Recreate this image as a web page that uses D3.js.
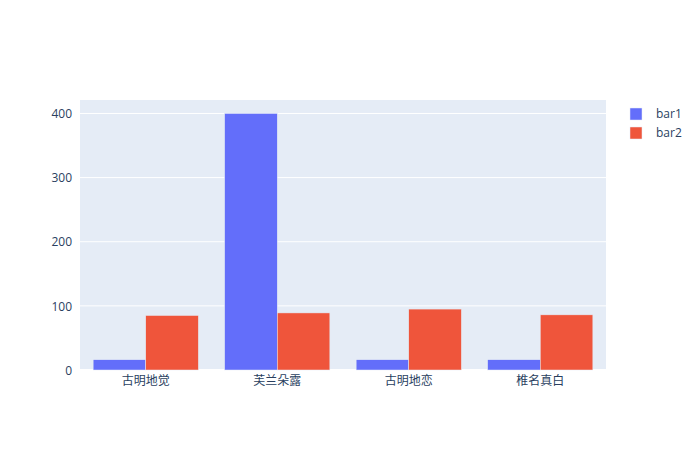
<!DOCTYPE html>
<html>
<head>
<meta charset="utf-8">
<script src="https://cdn.jsdelivr.net/npm/d3@7"></script>
<style>
  body { margin: 0; background: #fff; }
  svg text { font-family: "Open Sans", "Noto Sans CJK SC", sans-serif; fill: #2a3f5f; }
</style>
</head>
<body>
<svg id="chart" width="700" height="450"></svg>
<script>
const categories = ["古明地觉", "芙兰朵露", "古明地恋", "椎名真白"];
const bar1 = [16, 400, 16, 16];
const bar2 = [85, 89, 95, 86];
const seriesNames = ["bar1", "bar2"];
const seriesColors = ["#636efa", "#EF553B"];
const yTicks = [0, 100, 200, 300, 400];

let svg = d3.select("#chart");
let margin = { left: 80, top: 100, right: 94, bottom: 80 };
let width = 700 - margin.left - margin.right,
    height = 450 - margin.top - margin.bottom;

let g = svg.append("g").attr("transform", "translate(" + margin.left + "," + margin.top + ")");

g.append("rect").attr("width", width).attr("height", height).attr("fill", "#E5ECF6");

let x = d3.scaleBand().domain(categories).range([0, width]).paddingInner(0.2).paddingOuter(0.1);
let xInner = d3.scaleBand().domain(seriesNames).range([0, x.bandwidth()]);
let y = d3.scaleLinear().domain([0, 421]).range([height, 0]);

// grid
g.append("g")
  .selectAll("line")
  .data(yTicks)
  .enter().append("line")
    .attr("x1", 0).attr("x2", width)
    .attr("y1", d => y(d)).attr("y2", d => y(d))
    .attr("stroke", "#fff")
    .attr("stroke-width", d => d === 0 ? 2 : 1);

// bars
let series = [bar1, bar2];
series.forEach(function(vals, si) {
  g.append("g")
    .selectAll("rect")
    .data(vals)
    .enter().append("rect")
      .attr("x", (d, i) => x(categories[i]) + xInner(seriesNames[si]))
      .attr("width", xInner.bandwidth())
      .attr("y", d => y(d))
      .attr("height", d => y(0) - y(d))
      .attr("fill", seriesColors[si])
      .attr("stroke", "#E5ECF6")
      .attr("stroke-width", 0.5);
});

// y axis
let yAxis = g.append("g").call(d3.axisLeft(y).tickValues(yTicks).tickSize(0).tickPadding(8));
yAxis.select(".domain").remove();
yAxis.selectAll("text").attr("font-size", 12).attr("dy", "0.35em");

// x axis
let xAxis = g.append("g")
  .attr("transform", "translate(0," + height + ")")
  .call(d3.axisBottom(x).tickSize(0).tickPadding(6));
xAxis.select(".domain").remove();
xAxis.selectAll("text").attr("font-size", 12);

// legend
let legend = svg.append("g").attr("transform", "translate(630,108)");
seriesNames.forEach(function(name, i) {
  let row = legend.append("g").attr("transform", "translate(0," + (i * 19) + ")");
  row.append("rect")
    .attr("width", 12).attr("height", 12)
    .attr("fill", seriesColors[i])
    .attr("stroke", "#E5ECF6").attr("stroke-width", 0.5);
  row.append("text")
    .attr("x", 26).attr("y", 6).attr("dy", "0.35em")
    .attr("font-size", 12)
    .text(name);
});
</script>
</body>
</html>
